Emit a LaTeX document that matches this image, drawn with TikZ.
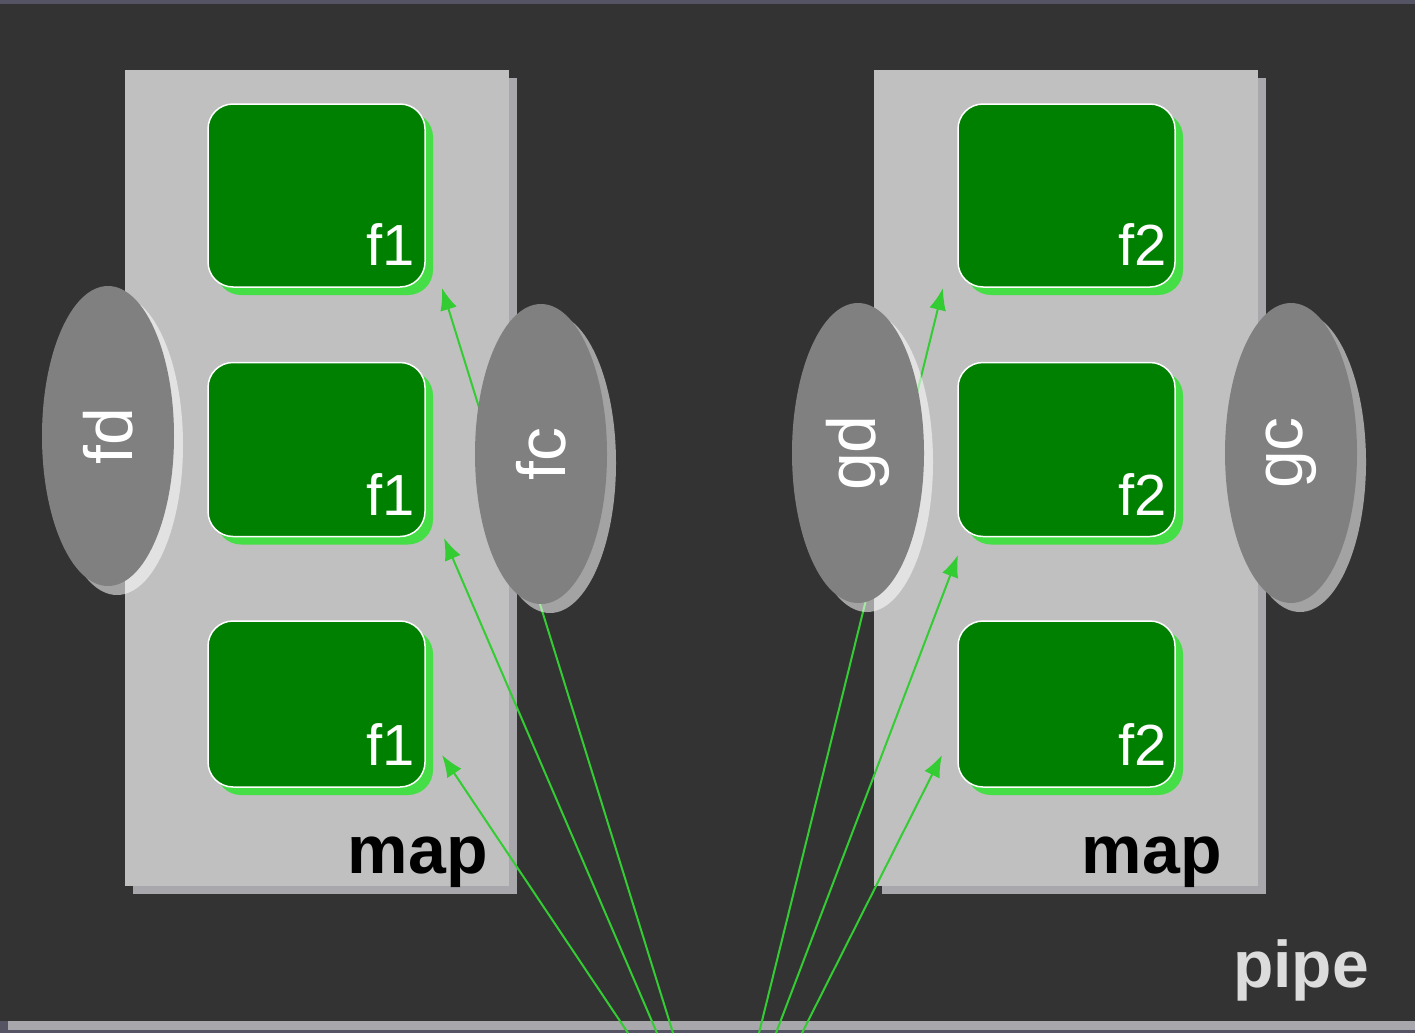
\documentclass[tikz,border=0pt]{standalone}
\usepackage{fontspec}
\setmainfont{Liberation Sans}
\usetikzlibrary{arrows.meta, shapes.geometric, shadows}
\definecolor{backdrop}{RGB}{84,84,100}
\definecolor{pipebg}{RGB}{51,51,51}
\definecolor{framesh}{RGB}{168,168,172}
\definecolor{mapgray}{RGB}{192,192,192}
\definecolor{fngreen}{RGB}{0,128,0}
\definecolor{fnshadow}{RGB}{70,222,70}
\definecolor{sidegray}{RGB}{128,128,128}
\definecolor{flowgreen}{RGB}{51,204,51}
\definecolor{pipetext}{RGB}{220,220,220}

\tikzset{
  mapbox/.style={fill=mapgray, minimum width=384pt, minimum height=816pt, inner sep=0pt,
    drop shadow={shadow xshift=8pt, shadow yshift=-8pt, fill=framesh, opacity=1}},
  fnbox/.style={fill=fngreen, draw=white, line width=1.5pt, rounded corners=25pt,
    minimum width=217pt, inner sep=0pt,
    drop shadow={shadow xshift=8pt, shadow yshift=-8pt, fill=fnshadow, opacity=1}},
  fnlabel/.style={anchor=base east, inner sep=0pt, text=white, font=\fontsize{58}{58}\selectfont},
  sidebox/.style={ellipse, fill=sidegray, minimum width=132pt, minimum height=300pt, inner sep=0pt,
    text=white, font=\fontsize{68}{68}\selectfont,
    drop shadow={shadow xshift=9pt, shadow yshift=-9pt, fill=white, opacity=0.55}},
  maplabel/.style={anchor=base east, inner sep=0pt, font=\bfseries\fontsize{68}{68}\selectfont},
  flow/.style={flowgreen, line width=2pt, -{Latex[length=22pt,width=17pt]}}
}

\begin{document}
\begin{tikzpicture}[x=1pt, y=-1pt]
  \useasboundingbox (0,0) rectangle (1415,1033);
  \clip (0,0) rectangle (1415,1033);

  % pipe frame
  \fill[backdrop] (0,0) rectangle (1415,1033);
  \fill[framesh] (8,12) rectangle (1423,1030);
  \fill[pipebg] (0,4) rectangle (1415,1021);
  \node[anchor=base east, inner sep=0pt, text=pipetext, font=\bfseries\fontsize{66}{66}\selectfont]
    (pipe) at (1369,987) {pipe};

  % map stages
  \node[mapbox] (mapL) at (317,478) {};
  \node[mapbox] (mapR) at (1066,478) {};
  \node[maplabel] (mapL-t) at (488,873) {map};
  \node[maplabel] (mapR-t) at (1222,873) {map};

  % f1 column
  \node[fnbox, minimum height=183pt] (f1a) at (316.5,195.5) {};
  \node[fnbox, minimum height=174pt] (f1b) at (316.5,449.5) {};
  \node[fnbox, minimum height=166pt] (f1c) at (316.5,704) {};
  \node[fnlabel] (f1a-t) at ([xshift=-11pt, yshift=22pt]f1a.south east) {f1};
  \node[fnlabel] (f1b-t) at ([xshift=-11pt, yshift=22pt]f1b.south east) {f1};
  \node[fnlabel] (f1c-t) at ([xshift=-11pt, yshift=22pt]f1c.south east) {f1};

  % f2 column
  \node[fnbox, minimum height=183pt] (f2a) at (1066.5,195.5) {};
  \node[fnbox, minimum height=174pt] (f2b) at (1066.5,449.5) {};
  \node[fnbox, minimum height=166pt] (f2c) at (1066.5,704) {};
  \node[fnlabel] (f2a-t) at ([xshift=-9pt, yshift=22pt]f2a.south east) {f2};
  \node[fnlabel] (f2b-t) at ([xshift=-9pt, yshift=22pt]f2b.south east) {f2};
  \node[fnlabel] (f2c-t) at ([xshift=-9pt, yshift=22pt]f2c.south east) {f2};

  % flows out of the pipe
  \coordinate (s1) at (628,1033);
  \coordinate (s2) at (657,1033);
  \coordinate (s3) at (673,1033);
  \coordinate (s4) at (759,1033);
  \coordinate (s5) at (776,1033);
  \coordinate (s6) at (802,1033);
  \coordinate (t1) at (442,755);
  \coordinate (t2) at (444,538);
  \coordinate (t3) at (442,288);
  \coordinate (t4) at (943,288);
  \coordinate (t5) at (958,555);
  \coordinate (t6) at (942,755);
  \foreach \i in {1,...,6} {
    \draw[flow] (s\i) -- (t\i);
  }

  % distribute / collect
  \node[sidebox] (fd) at (108,436) {\rotatebox{90}{fd}};
  \node[sidebox] (fc) at (541,454) {\rotatebox{90}{fc}};
  \node[sidebox] (gd) at (858,453) {\rotatebox{90}{gd}};
  \node[sidebox] (gc) at (1291,453) {\rotatebox{90}{gc}};
\end{tikzpicture}
\end{document}
